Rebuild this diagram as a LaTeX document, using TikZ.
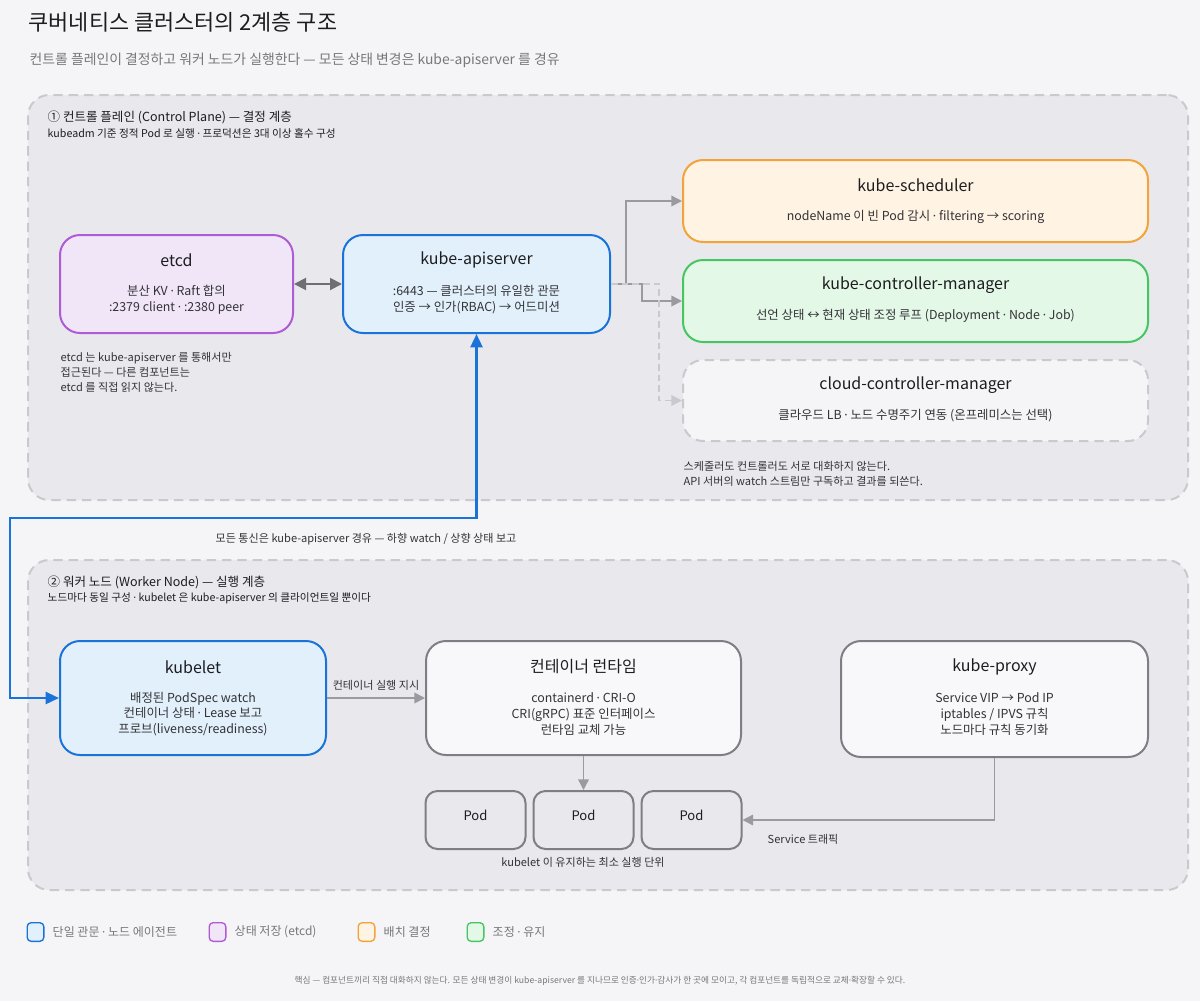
\documentclass[tikz,border=0pt]{standalone}
\usepackage{fontspec}
\setmainfont{Noto Sans CJK KR}
\newfontfamily\latf{Noto Sans}
\newcommand\md{{\latf ·}}
\usetikzlibrary{arrows.meta,calc}
\definecolor{bgc}{HTML}{F5F5F7}
\definecolor{grpf}{HTML}{E9E9ED}
\definecolor{grps}{HTML}{C9C9CE}
\definecolor{bluS}{HTML}{1A73D9}
\definecolor{bluF}{HTML}{E2F0FC}
\definecolor{purS}{HTML}{B05BD6}
\definecolor{purF}{HTML}{F1E6F8}
\definecolor{oraS}{HTML}{F2A33A}
\definecolor{oraF}{HTML}{FFF3E3}
\definecolor{greS}{HTML}{45C663}
\definecolor{greF}{HTML}{E4F8E8}
\definecolor{gryS}{HTML}{7E7E84}
\definecolor{gryF}{HTML}{F8F8FA}
\definecolor{cnc}{HTML}{9A9A9F}
\definecolor{dkc}{HTML}{6E6E73}
\definecolor{txt}{HTML}{1D1D1F}
\definecolor{bod}{HTML}{333336}
\definecolor{sub}{HTML}{77777C}
\tikzset{
  wh/.style 2 args={minimum width=#1*0.75pt, minimum height=#2*0.75pt},
  grp/.style={draw=grps, fill=grpf, line width=1.5pt, dash pattern=on 7pt off 4.5pt, rounded corners=16pt, inner sep=0},
  box/.style={line width=1.5pt, rounded corners=15pt, inner sep=0},
  podbox/.style={draw=gryS, fill=grpf, line width=1.5pt, rounded corners=9pt, inner sep=0},
  ttl/.style={text=txt, font=\fontsize{12}{14}\selectfont},
  bdy/.style={text=bod, font=\fontsize{9.3}{11.7}\selectfont, align=center},
  note/.style={text=bod, font=\fontsize{8.3}{11.2}\selectfont, align=left},
  cn/.style={draw=cnc, line width=1.1pt, -{Triangle[length=8pt,width=8pt]}},
  lg/.style={line width=1pt, rounded corners=3pt, inner sep=0, minimum width=12.5pt, minimum height=14pt},
  lgt/.style={text=sub, font=\fontsize{9}{11}\selectfont, anchor=west}
}
\begin{document}
\begin{tikzpicture}[x=0.75pt,y=-0.75pt]
\fill[bgc] (0,0) rectangle (1200,1001);
\useasboundingbox (0,0) rectangle (1200,1001);
% title
\node[anchor=west, text=txt, font=\fontsize{16.4}{20}\selectfont] (title) at (24,22) {쿠버네티스 클러스터의 2계층 구조};
\node[anchor=west, text=sub, font=\fontsize{10.4}{12}\selectfont] (subtitle) at (25,60) {컨트롤 플레인이 결정하고 워커 노드가 실행한다 — 모든 상태 변경은 kube-apiserver 를 경유};
% groups
\node[grp, wh={1160}{405}] (cp) at (608,297.5) {};
\node[grp, wh={1160}{330}] (wn) at (608,725) {};
\node[anchor=west, text=txt, font=\fontsize{9.4}{11}\selectfont] (cph) at (43,117) {① 컨트롤 플레인 (Control Plane) — 결정 계층};
\node[anchor=west, text=txt, font=\fontsize{8}{10}\selectfont] (cps) at (43,133) {kubeadm 기준 정적 Pod 로 실행 \md{} 프로덕션은 3대 이상 홀수 구성};
\node[anchor=west, text=txt, font=\fontsize{9.4}{11}\selectfont] (wnh) at (43,582) {② 워커 노드 (Worker Node) — 실행 계층};
\node[anchor=west, text=txt, font=\fontsize{8}{10}\selectfont] (wns) at (43,598) {노드마다 동일 구성 \md{} kubelet 은 kube-apiserver 의 클라이언트일 뿐이다};
% control plane boxes
\node[box, draw=purS, fill=purF, wh={233}{98}] (etcd) at (176.5,284) {};
\node[ttl] (etcdT) at (176.5,260) {etcd};
\node[bdy] (etcdB) at (176.5,299.5) {분산 KV \md{} Raft 합의\\:2379 client \md{} :2380 peer};
\node[box, draw=bluS, fill=bluF, wh={267}{98}] (api) at (476.5,284) {};
\node[ttl] (apiT) at (476.5,260) {kube-apiserver};
\node[bdy] (apiB) at (476.5,299.5) {:6443 — 클러스터의 유일한 관문\\인증 → 인가(RBAC) → 어드미션};
\node[box, draw=oraS, fill=oraF, wh={465}{82}] (sched) at (915.5,201) {};
\node[ttl] (schedT) at (915.5,185) {kube-scheduler};
\node[bdy] (schedB) at (915.5,217) {nodeName 이 빈 Pod 감시 \md{} filtering → scoring};
\node[box, draw=greS, fill=greF, wh={465}{82}] (ctrl) at (915.5,301) {};
\node[ttl] (ctrlT) at (915.5,285) {kube-controller-manager};
\node[bdy] (ctrlB) at (915.5,316) {선언 상태 ↔ 현재 상태 조정 루프 (Deployment \md{} Node \md{} Job)};
\node[box, draw=grps, fill=bgc, dash pattern=on 7pt off 4.5pt, wh={465}{81}] (cloud) at (915.5,400.5) {};
\node[ttl] (cloudT) at (915.5,385) {cloud-controller-manager};
\node[bdy] (cloudB) at (915.5,416) {클라우드 LB \md{} 노드 수명주기 연동 (온프레미스는 선택)};
\node[note, anchor=north west] (etcdN) at (56,348) {etcd 는 kube-apiserver 를 통해서만\\접근된다 — 다른 컴포넌트는\\etcd 를 직접 읽지 않는다.};
\node[note, anchor=north west] (ctrlN) at (679,457) {스케줄러도 컨트롤러도 서로 대화하지 않는다.\\API 서버의 watch 스트림만 구독하고 결과를 되쓴다.};
% connectors in control plane
\draw[draw=dkc, line width=1.5pt, {Triangle[length=9pt,width=9pt]}-{Triangle[length=9pt,width=9pt]}] (etcd) -- (api);
\draw[cn] (api.east) -- ++(15,0) |- (sched.west);
\draw[cn] (api.east) -- ++(31,0) |- (ctrl.west);
\draw[draw=grps, line width=1.1pt, dash pattern=on 5pt off 3pt, -{Triangle[length=8pt,width=8pt]}] (api.east) -- ++(48,0) |- (cloud.west);
% worker boxes
\node[box, draw=bluS, fill=bluF, wh={266}{114}] (kubelet) at (193,698) {};
\node[ttl] (kubeletT) at (193,667) {kubelet};
\node[bdy] (kubeletB) at (193,714) {배정된 PodSpec watch\\컨테이너 상태 \md{} Lease 보고\\프로브(liveness/readiness)};
\node[box, draw=gryS, fill=gryF, wh={315}{114}] (rt) at (583.5,698) {};
\node[ttl] (rtT) at (583.5,667) {컨테이너 런타임};
\node[bdy] (rtB) at (583.5,714) {containerd \md{} CRI-O\\CRI(gRPC) 표준 인터페이스\\런타임 교체 가능};
\node[box, draw=gryS, fill=gryF, wh={307}{116}] (proxy) at (994.5,699) {};
\node[ttl] (proxyT) at (994.5,667) {kube-proxy};
\node[bdy] (proxyB) at (994.5,714) {Service VIP → Pod IP\\iptables / IPVS 규칙\\노드마다 규칙 동기화};
\node[podbox, wh={100}{58}] (pod1) at (475.5,820) {};
\node[podbox, wh={100}{58}] (pod2) at (583.5,820) {};
\node[podbox, wh={100}{58}] (pod3) at (691.5,820) {};
\node[ttl, font=\fontsize{9.8}{12}\selectfont] (pod1T) at (475.5,815) {Pod};
\node[ttl, font=\fontsize{9.8}{12}\selectfont] (pod2T) at (583.5,815) {Pod};
\node[ttl, font=\fontsize{9.8}{12}\selectfont] (pod3T) at (691.5,815) {Pod};
\node[text=bod, font=\fontsize{8.3}{10}\selectfont] (podL) at (583,862) {kubelet 이 유지하는 최소 실행 단위};
% worker connectors
\draw[cn] (kubelet.east) -- (rt.west) node[midway, above=2pt, text=bod, font=\fontsize{8.3}{10}\selectfont] (runL) {컨테이너 실행 지시};
\draw[cn] (rt.south) -- (pod2.north);
\draw[cn] (proxy.south) |- (pod3.east);
\node[anchor=west, text=bod, font=\fontsize{8.3}{10}\selectfont] (svcL) at (763,839) {Service 트래픽};
% blue link
\coordinate (bendA) at (10,518);
\draw[draw=bluS, line width=1.8pt, {Triangle[length=10pt,width=9pt]}-{Triangle[length=10pt,width=9pt]}] (api.south) -- (api.south |- bendA) -- (bendA) |- (kubelet.west);
\node[text=bod, font=\fontsize{8.3}{10}\selectfont] (linkL) at (366,539) {모든 통신은 kube-apiserver 경유 — 하향 watch / 상향 상태 보고};
% legend
\node[lg, draw=bluS, fill=bluF] (lg1) at (35.5,932) {};
\node[lgt] (lg1T) at (48,932) {단일 관문 \md{} 노드 에이전트};
\node[lg, draw=purS, fill=purF] (lg2) at (217.5,932) {};
\node[lgt] (lg2T) at (230,932) {상태 저장 (etcd)};
\node[lg, draw=oraS, fill=oraF] (lg3) at (366.5,932) {};
\node[lgt] (lg3T) at (379,932) {배치 결정};
\node[lg, draw=greS, fill=greF] (lg4) at (475.5,932) {};
\node[lgt] (lg4T) at (488,932) {조정 \md{} 유지};
% footer
\node[text=sub, font=\fontsize{6.5}{8}\selectfont] (foot) at (600,981) {핵심 — 컴포넌트끼리 직접 대화하지 않는다. 모든 상태 변경이 kube-apiserver 를 지나므로 인증\md{}인가\md{}감사가 한 곳에 모이고, 각 컴포넌트를 독립적으로 교체\md{}확장할 수 있다.};
\end{tikzpicture}
\end{document}
